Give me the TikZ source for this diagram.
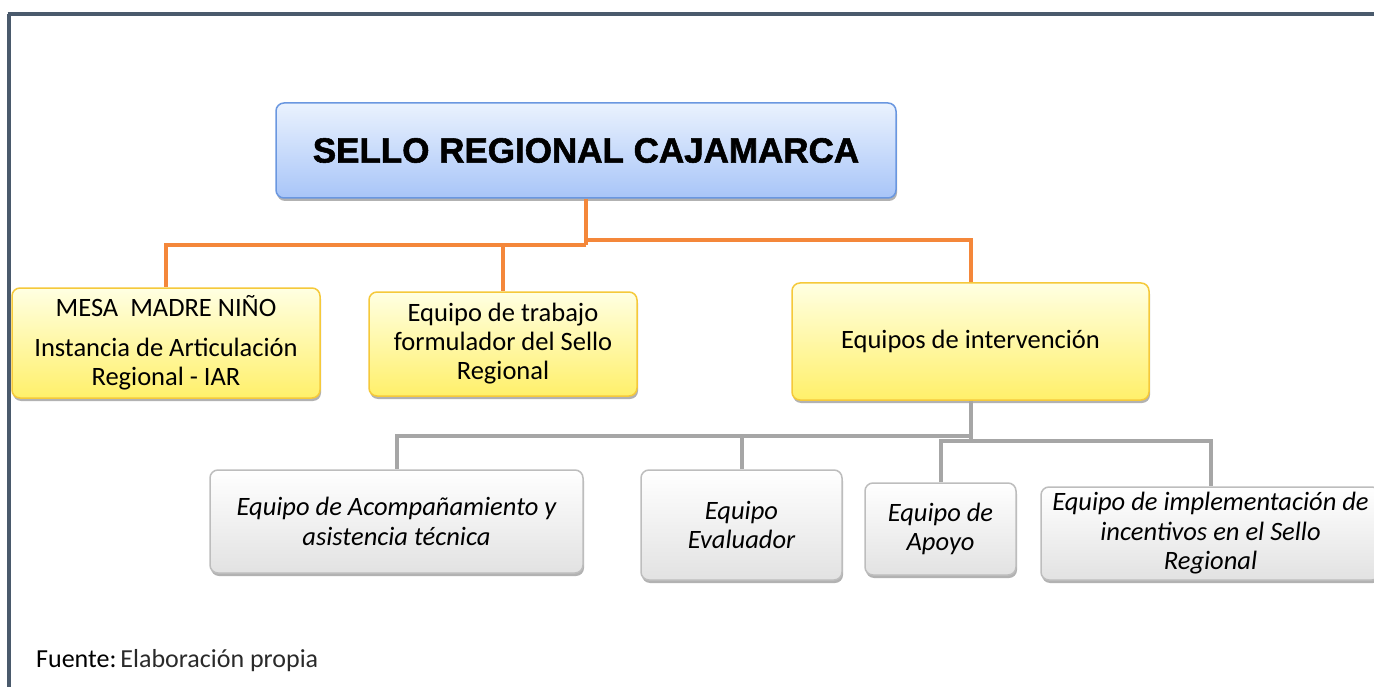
\documentclass[tikz,border=0pt]{standalone}
\usepackage{fontspec}
\setmainfont{Carlito}
\newfontfamily\titlefont[BoldFeatures={FakeBold=1.6}]{Liberation Sans}
\usetikzlibrary{shadows}
\definecolor{frameclr}{HTML}{4A5A6C}
\definecolor{orangeline}{HTML}{F4873A}
\definecolor{grayline}{HTML}{A6A6A6}
\definecolor{bluetop}{HTML}{EAF2FE}
\definecolor{bluebot}{HTML}{A8C5F8}
\definecolor{blueborder}{HTML}{6A97E0}
\definecolor{yeltop}{HTML}{FFFFE2}
\definecolor{yelbot}{HTML}{FFF06A}
\definecolor{yelborder}{HTML}{F5C93A}
\definecolor{graytop}{HTML}{FFFFFF}
\definecolor{graybot}{HTML}{E2E2E2}
\definecolor{grayborder}{HTML}{BDBDBD}
\definecolor{lighttext}{HTML}{2A2A2A}
\begin{document}
\begin{tikzpicture}[x=1pt,y=-1pt,
  box/.style={rounded corners=8pt, line width=1.5pt, align=center, inner sep=0pt,
    drop shadow={shadow xshift=1pt, shadow yshift=-3pt, opacity=0.3, fill=black}},
  bluebox/.style={box, draw=blueborder, top color=bluetop, bottom color=bluebot},
  yelbox/.style={box, draw=yelborder, top color=yeltop, bottom color=yelbot,
    font=\fontsize{26.5}{29}\selectfont},
  graybox/.style={box, draw=grayborder, top color=graytop, bottom color=graybot,
    font=\fontsize{26.5}{29.5}\selectfont\itshape},
  oline/.style={draw=orangeline, line width=4pt},
  gline/.style={draw=grayline, line width=4pt},
  frame/.style={draw=frameclr, line width=3.8pt}
]
\useasboundingbox (0,0) rectangle (1374,687);
\fill[white] (0,0) rectangle (1374,687);

% frame
\coordinate (fa) at (7.5,14.3);
\coordinate (fb) at (1380,14.3);
\coordinate (fc) at (9.3,14.3);
\coordinate (fd) at (9.3,700);
\draw[frame] (fa) -- (fb);
\draw[frame] (fc) -- (fd);

% nodes
\node[bluebox, minimum width=620pt, minimum height=95pt,
  font=\titlefont\bfseries\fontsize{35}{40}\selectfont] (top) at (586,150.5) {SELLO REGIONAL CAJAMARCA};

\node[yelbox, minimum width=308pt, minimum height=110pt] (mesa) at (166,343)
  {MESA\ \ MADRE NIÑO\\[11pt]Instancia de Articulación\\Regional - IAR};
\node[yelbox, minimum width=268pt, minimum height=104pt] (trab) at (503,344)
  {Equipo de trabajo\\formulador del Sello\\Regional};
\node[yelbox, minimum width=357pt, minimum height=117pt] (inter) at (970.5,341.5)
  {Equipos de intervención};

\node[graybox, minimum width=373pt, minimum height=103pt] (a) at (396.5,521.5)
  {Equipo de Acompañamiento y\\asistencia técnica};
\node[graybox, minimum width=201pt, minimum height=110pt] (b) at (741.5,525)
  {Equipo\\Evaluador};
\node[graybox, minimum width=151pt, minimum height=92pt] (c) at (940.5,529)
  {Equipo de\\Apoyo};
\node[graybox, minimum width=339pt, minimum height=93pt] (d) at (1210.5,533.5)
  {Equipo de implementación de\\incentivos en el Sello\\Regional};

\node[anchor=west, inner sep=0pt, font=\fontsize{26}{29}\selectfont] (fuente) at (36,661)
  {Fuente:\hspace{4pt}\textcolor{lighttext}{Elaboración propia}};

% orange connectors
\coordinate (oj) at (top.south |- 0,245);
\coordinate (ojr) at (top.south |- 0,240);
\draw[oline] (top.south) -- (oj);
\draw[oline] (oj) -| (mesa.north);
\draw[oline] (oj) -| (trab.north);
\draw[oline] (ojr) -| (inter.north);

% gray connectors
\coordinate (gj) at (inter.south |- 0,441);
\coordinate (gjl) at (inter.south |- 0,436);
\draw[gline] (inter.south) -- (gj);
\draw[gline] (gjl) -| (a.north);
\draw[gline] (gjl) -| (b.north);
\draw[gline] (gj) -| (c.north);
\draw[gline] (gj) -| (d.north);
\end{tikzpicture}
\end{document}
